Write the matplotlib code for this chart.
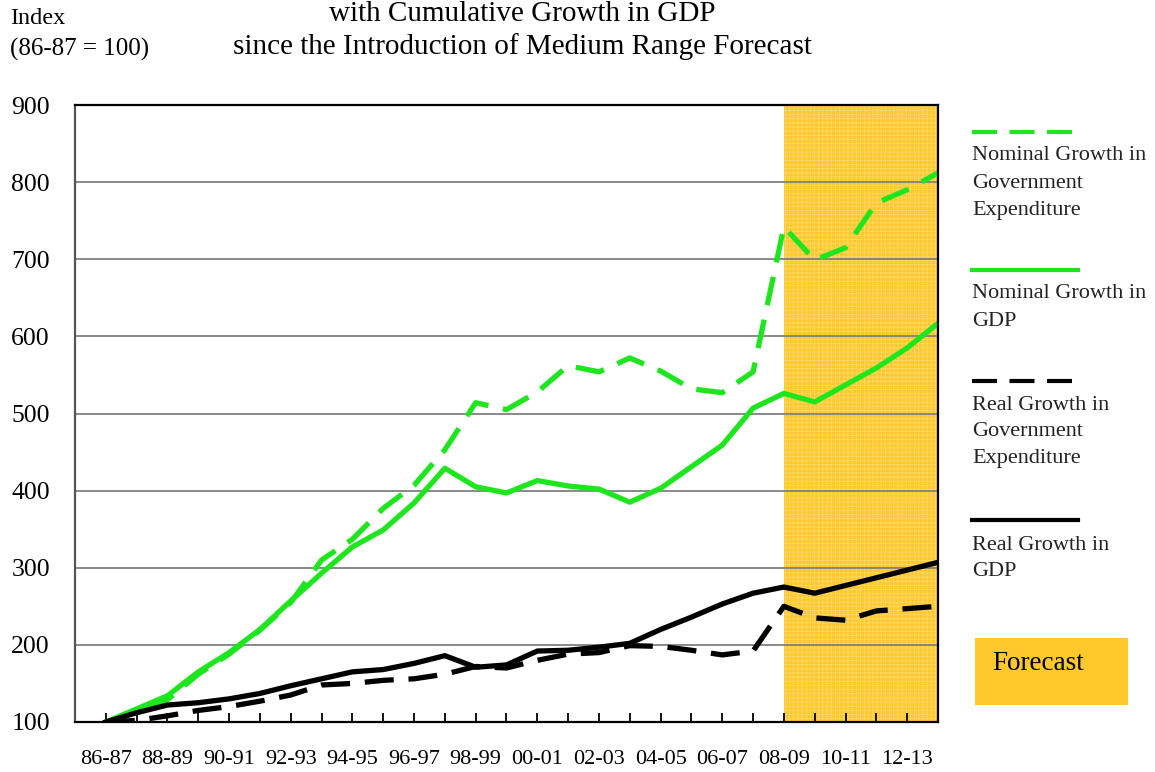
import matplotlib
matplotlib.use("Agg")
import matplotlib.pyplot as plt
from matplotlib.lines import Line2D
from matplotlib.patches import Rectangle

plt.rcParams['font.family'] = ['Liberation Serif', 'DejaVu Serif']
plt.rcParams['hatch.linewidth'] = 0.6

years = ["86-87", "87-88", "88-89", "89-90", "90-91", "91-92", "92-93", "93-94",
         "94-95", "95-96", "96-97", "97-98", "98-99", "99-00", "00-01", "01-02",
         "02-03", "03-04", "04-05", "05-06", "06-07", "07-08", "08-09", "09-10",
         "10-11", "11-12", "12-13", "13-14"]

nominal_gov_exp = [100, 113, 129, 162, 188, 219, 255, 310, 337, 377, 407, 453,
                   514, 505, 528, 562, 554, 572, 555, 532, 527, 554, 742, 699,
                   715, 773, 790, 812]
nominal_gdp = [100, 117, 134, 165, 190, 220, 257, 293, 327, 349, 384, 429,
               405, 397, 413, 406, 402, 385, 403, 431, 459, 507, 526, 515,
               537, 559, 585, 617]
real_gov_exp = [100, 102, 108, 115, 120, 127, 135, 148, 150, 154, 156, 162,
                172, 170, 180, 188, 190, 199, 198, 193, 187, 192, 250, 235,
                232, 244, 247, 250]
real_gdp = [100, 112, 122, 125, 130, 137, 147, 156, 165, 168, 176, 186,
            171, 174, 192, 193, 197, 202, 220, 236, 253, 267, 275, 267,
            277, 287, 297, 307]

forecast_start = "08-09"
yticks = [100, 200, 300, 400, 500, 600, 700, 800, 900]

GREEN = '#1EE61E'
ORANGE = '#FFC82D'

W, H = 1155, 772
fig = plt.figure(figsize=(W / 100, H / 100), dpi=100)
ax = fig.add_axes([75 / W, (H - 722) / H, 863 / W, 617 / H])

x = list(range(len(years)))
fs = years.index(forecast_start)
ax.axvspan(fs, len(years) - 1, facecolor=ORANGE, edgecolor='#FFD966',
           hatch='++++', linewidth=0, zorder=0)

for yv in yticks[1:-1]:
    ax.axhline(yv, color='#808080', lw=1.3, zorder=1)

lw = 3.8
ax.plot(x, nominal_gov_exp, color=GREEN, lw=lw, dashes=(5.5, 2.8), zorder=3)
ax.plot(x, nominal_gdp, color=GREEN, lw=lw, zorder=3)
ax.plot(x, real_gov_exp, color='black', lw=lw, dashes=(5.5, 2.8), zorder=3)
ax.plot(x, real_gdp, color='black', lw=lw, zorder=3)

ax.set_xlim(-1, len(years) - 1)
ax.set_ylim(100, 900)
ax.set_yticks(yticks)
ax.set_yticklabels([str(v) for v in yticks], fontsize=18.5)
ax.tick_params(axis='y', length=0, pad=18)
ax.set_xticks(x)
ax.set_xticklabels([y if i % 2 == 0 else '' for i, y in enumerate(years)], fontsize=16)
ax.tick_params(axis='x', direction='in', length=6.5, width=1.3, pad=20)
for s in ax.spines.values():
    s.set_linewidth(1.6)
    s.set_color('black')
    s.set_zorder(4)
ax.spines['left'].set_color('#555555')

# header texts
fig.text(522 / W, 1 - 14 / H, "with Cumulative Growth in GDP", ha='center', va='center', fontsize=21)
fig.text(522 / W, 1 - 47 / H, "since the Introduction of Medium Range Forecast", ha='center', va='center', fontsize=21)
fig.text(10 / W, 1 - 19 / H, "Index", ha='left', va='center', fontsize=17.5)
fig.text(10 / W, 1 - 49 / H, "(86-87 = 100)", ha='left', va='center', fontsize=18)

# legend panel (pixel coordinates)
lg = fig.add_axes([0, 0, 1, 1])
lg.set_xlim(0, W)
lg.set_ylim(H, 0)
lg.axis('off')
entries = [
    (GREEN, (6, 3), 132, ["Nominal Growth in", "Government", "Expenditure"], 156),
    (GREEN, None, 270, ["Nominal Growth in", "GDP"], 294),
    ('black', (6, 3), 381, ["Real Growth in", "Government", "Expenditure"], 405),
    ('black', None, 520, ["Real Growth in", "GDP"], 545),
]
for col, dash, ly, lines, ty in entries:
    kw = dict(color=col, lw=3)
    if dash:
        kw['dashes'] = dash
    lg.add_line(Line2D([972, 1078], [ly, ly], **kw))
    for k, t in enumerate(lines):
        lg.text(972, ty + 27 * k, t, ha='left', va='center', fontsize=16, color='#222222')
lg.add_patch(Rectangle((975, 638), 153, 67, facecolor=ORANGE, edgecolor='none'))
lg.text(992, 664, "Forecast", ha='left', va='center', fontsize=19.5)

fig.savefig("out.png", dpi=100)
